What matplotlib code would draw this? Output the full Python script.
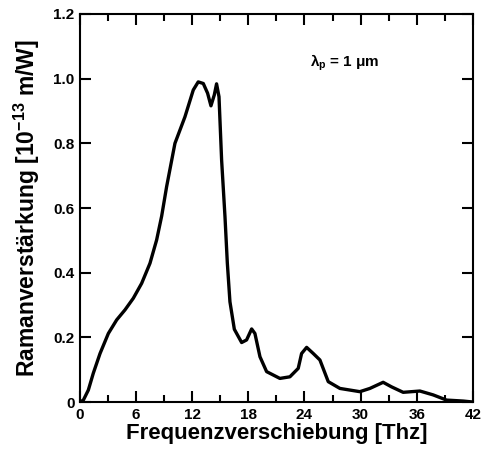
import matplotlib
matplotlib.use("Agg")
import matplotlib.pyplot as plt
import matplotlib.ticker as mticker

# Raman gain spectrum
freq_thz = [0.0, 0.36, 0.89, 1.42, 2.14, 3.03, 3.92, 4.81, 5.7, 6.59, 7.48, 8.19,
            8.73, 9.26, 10.15, 11.22, 12.11, 12.64, 13.18, 13.64, 14.0, 14.36,
            14.6, 14.86, 15.14, 15.5, 15.75, 16.03, 16.5, 17.28, 17.81, 18.35,
            18.7, 19.24, 19.95, 21.37, 22.44, 23.33, 23.69, 24.23, 24.94, 25.65,
            26.54, 27.79, 29.92, 30.99, 32.41, 33.3, 34.55, 36.34, 37.76, 39.19,
            40.97, 42.0]
gain = [0.0, 0.006, 0.037, 0.089, 0.15, 0.212, 0.254, 0.285, 0.321, 0.367, 0.429,
        0.501, 0.575, 0.666, 0.80, 0.882, 0.965, 0.99, 0.985, 0.955, 0.916, 0.95,
        0.984, 0.944, 0.748, 0.573, 0.43, 0.31, 0.225, 0.184, 0.192, 0.226,
        0.212, 0.14, 0.094, 0.073, 0.078, 0.104, 0.15, 0.169, 0.15, 0.13,
        0.063, 0.042, 0.032, 0.042, 0.061, 0.047, 0.03, 0.034, 0.022, 0.006,
        0.003, 0.0]

x_ticks = [0, 6, 12, 18, 24, 30, 36, 42]
y_ticks = [0, 0.2, 0.4, 0.6, 0.8, 1.0, 1.2]
y_ticklabels = ['0', '0.2', '0.4', '0.6', '0.8', '1.0', '1.2']

plt.rcParams.update({
    'font.family': ['Liberation Sans', 'DejaVu Sans'],
    'font.weight': 'bold',
    'mathtext.fontset': 'custom',
    'mathtext.rm': 'Liberation Sans:bold',
    'mathtext.it': 'Liberation Sans:bold:italic',
    'mathtext.bf': 'Liberation Sans:bold',
})

fig = plt.figure(figsize=(4.82, 4.51), dpi=100)
ax = fig.add_axes([0.166, 0.1086, 0.815, 0.8604])

ax.plot(freq_thz, gain, color='black', linewidth=2.4, solid_capstyle='round',
        solid_joinstyle='round')

ax.set_xlim(0, 42)
ax.set_ylim(0, 1.2)
ax.set_xticks(x_ticks)
ax.xaxis.set_minor_locator(mticker.MultipleLocator(3))
ax.set_yticks(y_ticks)
ax.set_yticklabels(y_ticklabels)

ax.tick_params(which='major', direction='in', length=8, width=1.5,
               top=True, right=True, labelsize=11, pad=4)
ax.tick_params(which='minor', direction='in', length=5, width=1.5,
               top=True, right=True)
for lab in ax.get_xticklabels() + ax.get_yticklabels():
    lab.set_fontweight('bold')
for sp in ax.spines.values():
    sp.set_linewidth(1.5)

ax.set_xlabel('Frequenzverschiebung [Thz]', fontsize=16, fontweight='bold', labelpad=1)
ax.set_ylabel('Ramanverstärkung [10$^{-13}$ m/W]', fontsize=16.5, fontweight='bold', labelpad=8)

ax.text(24.6, 1.05, 'λ$_\\mathrm{p}$ = 1 μm', fontsize=11, fontweight='bold',
        ha='left', va='center')

fig.savefig('out.png', dpi=100, facecolor='white')
